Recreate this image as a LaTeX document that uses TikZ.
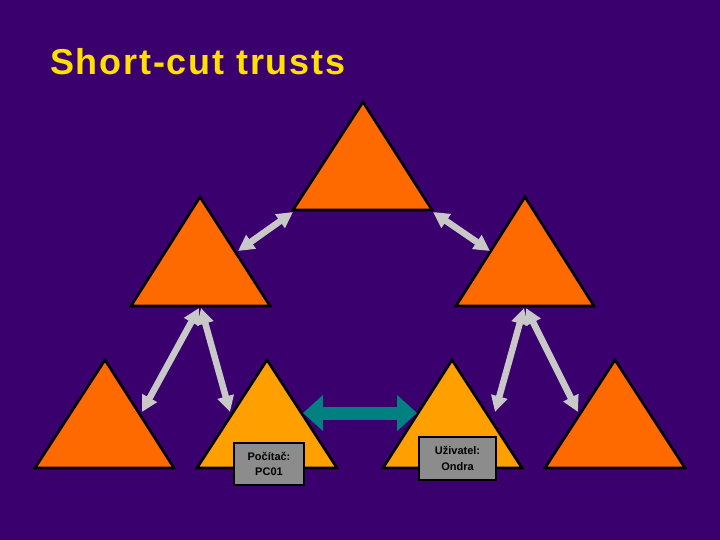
\documentclass[tikz,border=0pt]{standalone}
\usepackage{fontspec}
\setmainfont{Liberation Sans}
\usetikzlibrary{arrows.meta}
\definecolor{bg}{HTML}{3A006E}
\definecolor{orA}{HTML}{FF6A00}
\definecolor{orB}{HTML}{FFA000}
\definecolor{gry}{HTML}{C8C8C8}
\definecolor{boxg}{HTML}{8C8C8C}
\definecolor{tealc}{HTML}{008080}
\definecolor{ttl}{HTML}{FFE000}
\begin{document}
\begin{tikzpicture}[x=1pt,y=-1pt,
  tri/.style={draw=black,line width=2.6pt,line join=miter,fill=orA},
  trib/.style={tri,fill=orB},
  garrow/.style={draw=gry,line width=6.5pt,{Triangle[width=16pt,length=16pt]}-{Triangle[width=16pt,length=16pt]}},
  tarrow/.style={draw=tealc,line width=13pt,{Triangle[width=35pt,length=20pt]}-{Triangle[width=35pt,length=20pt]}},
  lbl/.style={draw=black,line width=2.2pt,fill=boxg,font=\fontsize{11}{15.5}\selectfont\bfseries,align=center,inner sep=0pt}]
\fill[bg] (0,0) rectangle (720,540);
\useasboundingbox (0,0) rectangle (720,540);
\node[anchor=base west,text=ttl,font=\fontsize{36}{40}\selectfont\bfseries\addfontfeature{LetterSpace=5},inner sep=0pt] (title) at (50,75) {Short-cut trusts};
% triangles
\draw[tri] (363,102) -- (432,210) -- (293,210) -- cycle;
\draw[tri] (200,197) -- (270,306) -- (131,306) -- cycle;
\draw[tri] (525,197) -- (594,306) -- (456,306) -- cycle;
\draw[tri] (105,360) -- (174,468) -- (35,468) -- cycle;
\draw[trib] (267,360) -- (337,468) -- (197,468) -- cycle;
\draw[trib] (452,360) -- (522,468) -- (383,468) -- cycle;
\draw[tri] (615,360) -- (685,468) -- (545,468) -- cycle;
% coordinates for connectors
\coordinate (tl) at (293,212);
\coordinate (ml) at (238,251);
\coordinate (tr) at (433,212);
\coordinate (mr) at (490,251);
\coordinate (mla) at (199,308);
\coordinate (mlb) at (201,308);
\coordinate (bl) at (142,412);
\coordinate (pc) at (230,412);
\coordinate (mra) at (524,308);
\coordinate (mrb) at (526,308);
\coordinate (uz) at (495,412);
\coordinate (br) at (578,412);
\coordinate (pcs) at (303,413);
\coordinate (uzs) at (417,413);
\draw[garrow] (tl) -- (ml);
\draw[garrow] (tr) -- (mr);
\draw[garrow] (mla) -- (bl);
\draw[garrow] (mlb) -- (pc);
\draw[garrow] (mra) -- (uz);
\draw[garrow] (mrb) -- (br);
\draw[tarrow] (pcs) -- (uzs);
\node[lbl,minimum width=70pt,minimum height=42pt] (pcbox) at (269,464) {Počítač:\\PC01};
\node[lbl,minimum width=77pt,minimum height=43pt] (uzbox) at (457.5,458.5) {Uživatel:\\Ondra};
\end{tikzpicture}
\end{document}
